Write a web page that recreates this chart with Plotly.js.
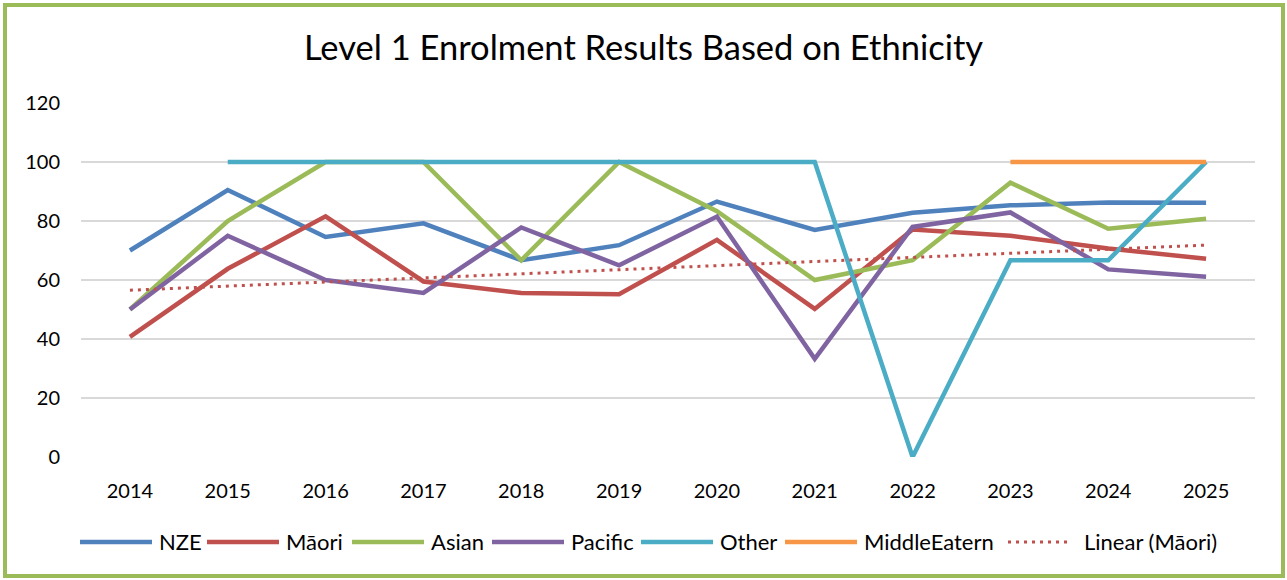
<!DOCTYPE html>
<html>
<head>
<meta charset="utf-8">
<script src="https://cdn.plot.ly/plotly-3.0.1.min.js"></script>
<style>
html,body{margin:0;padding:0;background:#fff;}
#wrap{position:relative;width:1287px;height:580px;}
#chart{width:1287px;height:580px;}
#frame{position:absolute;left:3px;top:3px;width:1274px;height:567px;border:4px solid #9BBB59;pointer-events:none;}
</style>
</head>
<body>
<div id="wrap"><div id="chart"></div><div id="frame"></div></div>
<script>
const years = ['2014','2015','2016','2017','2018','2019','2020','2021','2022','2023','2024','2025'];
const nze = [70, 90.5, 74.6, 79.2, 66.7, 71.8, 86.6, 77, 82.8, 85.3, 86.3, 86.2];
const maori = [40.7, 63.8, 81.6, 59.5, 55.6, 55.2, 73.6, 50.2, 77.1, 75, 70.7, 67.2];
const asian = [50, 80, 100, 100, 66.7, 100, 83.3, 60, 66.7, 93, 77.4, 80.8];
const pacific = [50, 75, 60, 55.6, 77.8, 65, 81.5, 33.3, 78, 82.9, 63.6, 61.1];
const other = [null, 100, 100, 100, 100, 100, 100, 100, 0, 66.7, 66.7, 100];
const middleEastern = [null, null, null, null, null, null, null, null, null, 100, 100, 100];
const yTicks = [0, 20, 40, 60, 80, 100, 120];
const seriesNames = ['NZE', 'Māori', 'Asian', 'Pacific', 'Other', 'MiddleEatern', 'Linear (Māori)'];
const seriesColors = ['#4F81BD', '#C0504D', '#9BBB59', '#8064A2', '#4BACC6', '#F79646', '#C0504D'];

// Linear trendline (least squares) of the Māori series, as the spreadsheet computes it
function linearTrend(vals){
  const n = vals.length;
  const xs = vals.map((_, i) => i + 1);
  const mx = xs.reduce((a,b)=>a+b,0)/n;
  const my = vals.reduce((a,b)=>a+b,0)/n;
  let sxy = 0, sxx = 0;
  for (let i=0;i<n;i++){ sxy += (xs[i]-mx)*(vals[i]-my); sxx += (xs[i]-mx)*(xs[i]-mx); }
  const b = sxy/sxx, a = my - b*mx;
  return xs.map(x => a + b*x);
}
const maoriTrend = linearTrend(maori);
const seriesValues = [nze, maori, asian, pacific, other, middleEastern, maoriTrend];

const W = 4.5;
const TREND_DASH = '3px,5px';
const data = seriesValues.map((vals, i) => {
  const isTrend = i === 6;
  return {type:'scatter', mode:'lines', name:seriesNames[i], x:years, y:vals,
    line: isTrend ? {color:seriesColors[i], width:3, dash:TREND_DASH} : {color:seriesColors[i], width:W},
    connectgaps:false, showlegend:false};
});

// Legend drawn manually (long sample lines like the original)
const M = {l:81, r:32, t:103, b:123};
const PW = 1287 - M.l - M.r, PH = 580 - M.t - M.b;
const px2x = px => (px - M.l) / PW;
const py2y = py => (580 - M.b - py) / PH;
const legendY = 542;
const legendLineStart = [80, 207, 352, 492, 641, 785, 1008];
const legendLineLen = 72;
const legendTextGap = 5;
const shapes = [], annotations = [];
seriesNames.forEach((nm, i) => {
  const isTrend = i === 6;
  const x0 = legendLineStart[i], x1 = x0 + (isTrend ? 63 : legendLineLen);
  shapes.push({type:'line', xref:'paper', yref:'paper', x0:px2x(x0), x1:px2x(x1), y0:py2y(legendY), y1:py2y(legendY),
    line: isTrend ? {color:seriesColors[i], width:3, dash:TREND_DASH} : {color:seriesColors[i], width:W}});
  annotations.push({xref:'paper', yref:'paper', x:px2x(x1 + legendTextGap + (isTrend?6:0)), y:py2y(legendY - 1),
    xanchor:'left', yanchor:'middle', text:nm, showarrow:false, font:{size:22}});
});

const font = 'Lato, "Open Sans", "Liberation Sans", sans-serif';
const layout = {
  width:1287, height:580,
  paper_bgcolor:'#ffffff', plot_bgcolor:'#ffffff',
  margin:M,
  font:{family:font, color:'#000000', size:20},
  title:{text:'Level 1 Enrolment Results Based on Ethnicity', font:{family:font, size:34.5, color:'#000000'},
    x:0.5, xanchor:'center', xref:'container', y:0.918, yref:'container', yanchor:'middle'},
  xaxis:{type:'category', categoryarray:years, categoryorder:'array', range:[-0.5, 11.5], showgrid:false, zeroline:false,
    showline:false, ticks:'', tickfont:{size:20, family:font}, ticklabelstandoff:20, fixedrange:true},
  yaxis:{range:[0,120], tickvals:yTicks, ticktext:yTicks.map(String), showgrid:true, gridcolor:'#D9D9D9',
    gridwidth:1.5, zeroline:false, showline:false, ticks:'', tickfont:{size:20, family:font},
    ticklabelstandoff:20, fixedrange:true},
  showlegend:false,
  shapes:shapes,
  annotations:annotations
};
Plotly.newPlot('chart', data, layout, {displayModeBar:false});
</script>
</body>
</html>
